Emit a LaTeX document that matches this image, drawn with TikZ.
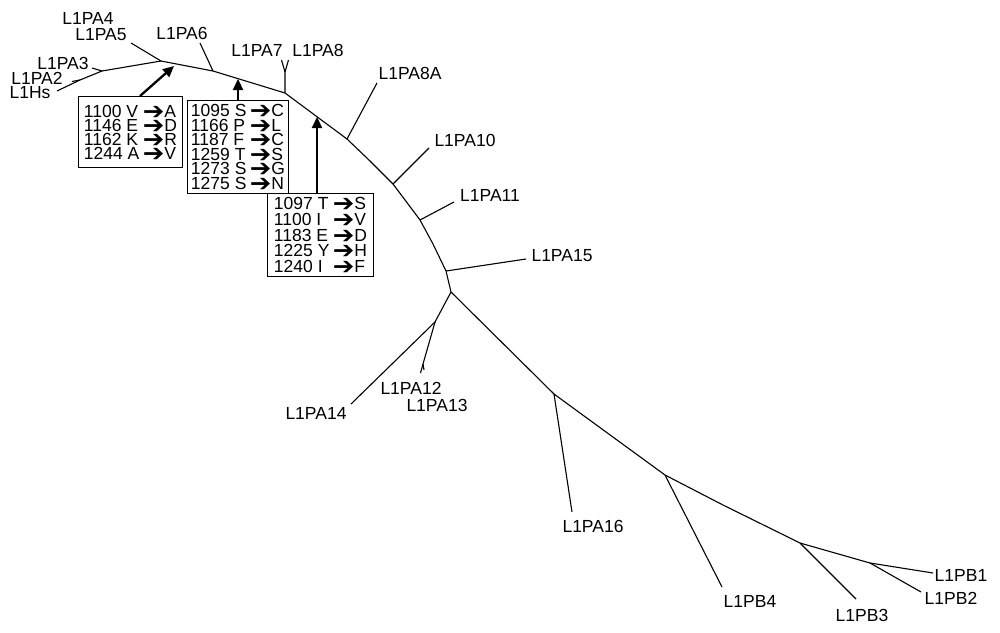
\documentclass[tikz,border=0pt]{standalone}
\usepackage{fontspec}
\setmainfont{Liberation Sans}
\newfontfamily\dvfont{DejaVu Sans}
\usetikzlibrary{arrows.meta,calc}
\newcommand\harr{\makebox[21.5pt][l]{\raisebox{-2pt}[0pt][0pt]{\scalebox{1.17}[1.08]{\dvfont\fontsize{22}{22}\selectfont ➔}}}}
\newcommand\mrow[3]{\makebox[59pt][l]{#1 #2}\harr#3}
\begin{document}
\begin{tikzpicture}[x=1pt,y=-1pt,
  every node/.style={font=\fontsize{17.5}{17.5}\selectfont},
  lab/.style={inner sep=0pt},
  br/.style={line width=1.1pt},
  mbox/.style={draw,line width=1.1pt,rectangle,inner sep=2pt,align=left,anchor=north west},
  mut/.style={line width=2.3pt,-{Triangle[length=11pt,width=10pt]}}]
\fill[white] (0,0) rectangle (1000,632);
\useasboundingbox (0,0) rectangle (1000,632);
% backbone coordinates
\coordinate (hs) at (57,91);
\coordinate (j2) at (80,80);
\coordinate (pa2) at (72,81.5);
\coordinate (j3) at (102,71);
\coordinate (pa3) at (92,68);
\coordinate (j45) at (161,61);
\coordinate (pa45) at (131,43);
\coordinate (j6) at (213,71);
\coordinate (pa6) at (200,43);
\coordinate (j78) at (285,93);
\coordinate (j78b) at (285,72);
\coordinate (pa7) at (281.5,60);
\coordinate (pa8) at (288.5,60);
\coordinate (j8a) at (347,139);
\coordinate (pa8a) at (377,83);
\coordinate (m1) at (370,161);
\coordinate (j10) at (393,184);
\coordinate (pa10) at (429,148);
\coordinate (j11) at (420,220);
\coordinate (pa11) at (454,202);
\coordinate (m2) at (433,244);
\coordinate (j15) at (446,271);
\coordinate (pa15) at (526,259);
\coordinate (j12) at (451,292);
\coordinate (jL) at (435,322);
\coordinate (pa14) at (351,404);
\coordinate (j1213) at (423,364);
\coordinate (pa12) at (420.5,373);
\coordinate (pa13) at (424,370);
\coordinate (j16) at (554,394);
\coordinate (pa16) at (572,512);
\coordinate (m3) at (580,413);
\coordinate (jb4) at (665,475);
\coordinate (pb4) at (722,587);
\coordinate (m4) at (723,505);
\coordinate (jb3) at (800,543);
\coordinate (pb3) at (856,599);
\coordinate (jb12) at (870,563);
\coordinate (pb1) at (933,573);
\coordinate (pb2) at (921,592);
% tree
\draw[br] (hs) -- (j2) -- (j3) -- (j45) -- (j6) -- (j78) -- (j8a) -- (m1) -- (j10) -- (j11) -- (m2) -- (j15) -- (j12) -- (j16) -- (m3) -- (jb4) -- (m4) -- (jb3) -- (jb12) -- (pb1);
\draw[br] (j2) -- (pa2);
\draw[br] (j3) -- (pa3);
\draw[br] (j45) -- (pa45);
\draw[br] (j6) -- (pa6);
\draw[br] (j78) -- (j78b) -- (pa7);
\draw[br] (j78b) -- (pa8);
\draw[br] (j8a) -- (pa8a);
\draw[br] (j10) -- (pa10);
\draw[br] (j11) -- (pa11);
\draw[br] (j15) -- (pa15);
\draw[br] (j12) -- (jL) -- (pa14);
\draw[br] (jL) -- (j1213) -- (pa12);
\draw[br] (j1213) -- (pa13);
\draw[br] (j16) -- (pa16);
\draw[br] (jb4) -- (pb4);
\draw[br] (jb3) -- (pb3);
\draw[br] (jb12) -- (pb2);
% labels
\node[lab] (lhs) at (30,93) {L1Hs};
\node[lab] (l2) at (37,78) {L1PA2};
\node[lab] (l3) at (63,63) {L1PA3};
\node[lab] (l4) at (88,18.5) {L1PA4};
\node[lab] (l5) at (101,35) {L1PA5};
\node[lab] (l6) at (182,33) {L1PA6};
\node[lab] (l7) at (257,50) {L1PA7};
\node[lab] (l8) at (318,50) {L1PA8};
\node[lab] (l8a) at (410,73) {L1PA8A};
\node[lab] (l10) at (465,140) {L1PA10};
\node[lab] (l11) at (490,195) {L1PA11};
\node[lab] (l15) at (562,256) {L1PA15};
\node[lab] (l14) at (316,413) {L1PA14};
\node[lab] (l12) at (411,388) {L1PA12};
\node[lab] (l13) at (437,405) {L1PA13};
\node[lab] (l16) at (593,526) {L1PA16};
\node[lab] (lb4) at (750,601) {L1PB4};
\node[lab] (lb3) at (862,615) {L1PB3};
\node[lab] (lb1) at (961,575) {L1PB1};
\node[lab] (lb2) at (951,598) {L1PB2};
% mutation boxes
\node[mbox,minimum width=104pt,minimum height=71pt,font=\fontsize{17.5}{14}\selectfont] (box1) at (78,96)
  {\mrow{1100}{V}{A}\\\mrow{1146}{E}{D}\\\mrow{1162}{K}{R}\\\mrow{1244}{A}{V}};
\node[mbox,minimum width=101pt,minimum height=93pt,font=\fontsize{17.5}{14.6}\selectfont] (box2) at (187,100)
  {\mrow{1095}{S}{C}\\\mrow{1166}{P}{L}\\\mrow{1187}{F}{C}\\\mrow{1259}{T}{S}\\\mrow{1273}{S}{G}\\\mrow{1275}{S}{N}};
\node[mbox,minimum width=106pt,minimum height=83pt,font=\fontsize{17.5}{15.7}\selectfont] (box3) at (267,193)
  {\mrow{1097}{T}{S}\\\mrow{1100}{I}{V}\\\mrow{1183}{E}{D}\\\mrow{1225}{Y}{H}\\\mrow{1240}{I}{F}};
% mutation arrows
\coordinate (t1) at (174,66);
\coordinate (t2) at (238,79);
\coordinate (t3) at (317,117);
\draw[mut] ([xshift=62pt]box1.north west) -- (t1);
\draw[mut] (box2.north -| t2) -- (t2);
\draw[mut] (box3.north -| t3) -- (t3);
\end{tikzpicture}
\end{document}
